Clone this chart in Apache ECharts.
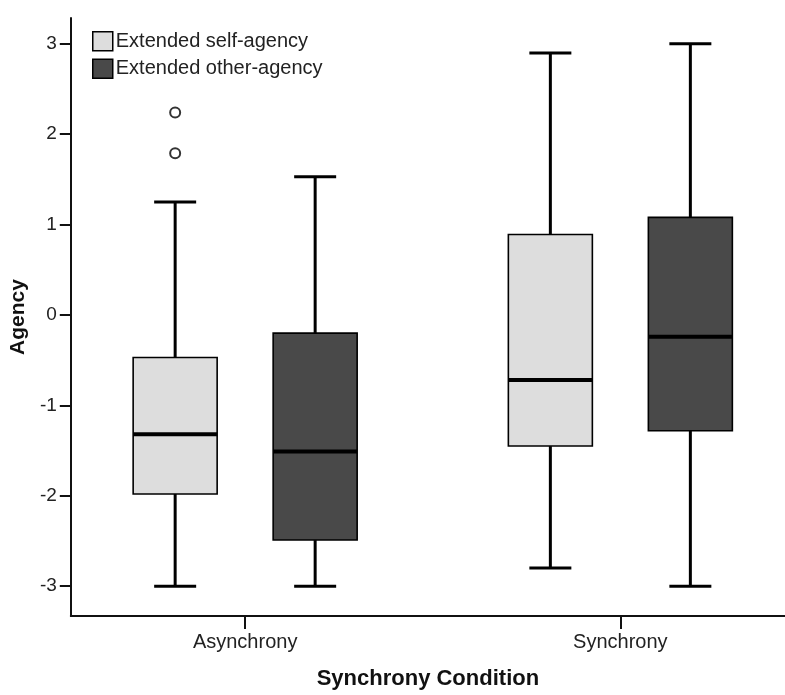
<!DOCTYPE html>
<html>
<head>
<meta charset="utf-8">
<title>Agency by synchrony condition</title>
<script src="https://cdn.jsdelivr.net/npm/echarts@6/dist/echarts.min.js"></script>
<style>
  html, body { margin: 0; padding: 0; background: #fff; }
  #chart { width: 785px; height: 695px; }
</style>
</head>
<body>
<div id="chart"></div>
<script>
// conditions on the x axis
const conditions = ['Asynchrony', 'Synchrony'];
// box stats per condition: [low whisker, Q1, median, Q3, high whisker]
const selfAgency = [
  [-3.00, -1.98, -1.32, -0.47, 1.25],
  [-2.80, -1.45, -0.72, 0.89, 2.90]
];
const otherAgency = [
  [-3.00, -2.49, -1.51, -0.20, 1.53],
  [-3.00, -1.28, -0.24, 1.08, 3.00]
];
// outliers for self-agency: [condition index, value]
const selfOutliers = [[0, 2.24], [0, 1.79]];
const yTicks = [-3, -2, -1, 0, 1, 2, 3];

const FONT = 'Liberation Sans, Arial, sans-serif';
const BOX_W = 84;
const CAP_W = 42;
const SHIFT = 70;

function toRows(stats) {
  return stats.map((s, i) => [i + 1].concat(s));
}

function boxRenderer(shift) {
  return function (params, api) {
    const x = api.coord([api.value(0), 0])[0] + shift;
    const y = k => api.coord([api.value(0), api.value(k)])[1];
    const low = y(1), q1 = y(2), med = y(3), q3 = y(4), high = y(5);
    const fill = api.visual('color');
    const thick = { stroke: '#000', lineWidth: 3 };
    return {
      type: 'group',
      children: [
        { type: 'line', shape: { x1: x, y1: high, x2: x, y2: q3 }, style: thick },
        { type: 'line', shape: { x1: x, y1: q1, x2: x, y2: low }, style: thick },
        { type: 'line', shape: { x1: x - CAP_W / 2, y1: high, x2: x + CAP_W / 2, y2: high }, style: thick },
        { type: 'line', shape: { x1: x - CAP_W / 2, y1: low, x2: x + CAP_W / 2, y2: low }, style: thick },
        { type: 'rect', shape: { x: x - BOX_W / 2, y: q3, width: BOX_W, height: q1 - q3 },
          style: { fill: fill, stroke: '#000', lineWidth: 1.6 } },
        { type: 'line', shape: { x1: x - BOX_W / 2, y1: med, x2: x + BOX_W / 2, y2: med },
          style: { stroke: '#000', lineWidth: 4 } }
      ]
    };
  };
}

const chart = echarts.init(document.getElementById('chart'), null, { renderer: 'canvas' });

const option = {
  backgroundColor: '#fff',
  animation: false,
  textStyle: { fontFamily: FONT },
  legend: {
    left: 87,
    top: 26,
    orient: 'vertical',
    itemWidth: 20,
    itemHeight: 19,
    itemGap: 7,
    icon: 'rect',
    selectedMode: false,
    textStyle: { fontFamily: FONT, fontSize: 20, color: '#222', padding: [0, 0, 0, -2] },
    itemStyle: { borderColor: '#000', borderWidth: 1.5 },
    data: ['Extended self-agency', 'Extended other-agency']
  },
  grid: { left: 67, right: 0, top: 18, bottom: 77, containLabel: false },
  xAxis: {
    type: 'value',
    min: 0.5353,
    max: 2.4388,
    name: 'Synchrony Condition',
    nameLocation: 'middle',
    nameGap: 52,
    nameTextStyle: { fontFamily: FONT, fontSize: 22, fontWeight: 'bold', color: '#111' },
    splitLine: { show: false },
    axisLine: { show: true, onZero: false, lineStyle: { color: '#111', width: 2 } },
    axisTick: { show: true, length: 13, lineStyle: { color: '#111', width: 2 }, customValues: [1, 2] },
    axisLabel: {
      customValues: [1, 2],
      formatter: v => conditions[Math.round(v) - 1],
      margin: 16,
      fontFamily: FONT, fontSize: 20, color: '#222'
    }
  },
  yAxis: {
    type: 'value',
    min: -3.33,
    max: 3.286,
    name: 'Agency',
    nameLocation: 'middle',
    nameGap: 37,
    nameTextStyle: { fontFamily: FONT, fontSize: 21, fontWeight: 'bold', color: '#111' },
    splitLine: { show: false },
    axisLine: { show: true, onZero: false, lineStyle: { color: '#111', width: 2 } },
    axisTick: { show: true, length: 11, lineStyle: { color: '#111', width: 2 }, customValues: yTicks },
    axisLabel: {
      customValues: yTicks,
      margin: 14,
      fontFamily: FONT, fontSize: 19, color: '#222'
    }
  },
  series: [
    {
      name: 'Extended self-agency',
      type: 'custom',
      itemStyle: { color: '#dddddd' },
      encode: { x: 0, y: [1, 2, 3, 4, 5] },
      renderItem: boxRenderer(-SHIFT),
      data: toRows(selfAgency)
    },
    {
      name: 'Extended other-agency',
      type: 'custom',
      itemStyle: { color: '#494949' },
      encode: { x: 0, y: [1, 2, 3, 4, 5] },
      renderItem: boxRenderer(SHIFT),
      data: toRows(otherAgency)
    },
    {
      name: 'outliers',
      type: 'scatter',
      symbol: 'circle',
      symbolSize: 10,
      symbolOffset: [-SHIFT, 0],
      itemStyle: { color: '#fff', borderColor: '#000', borderWidth: 2 },
      data: selfOutliers.map(p => [p[0] + 1, p[1]])
    }
  ]
};

chart.setOption(option);
</script>
</body>
</html>
